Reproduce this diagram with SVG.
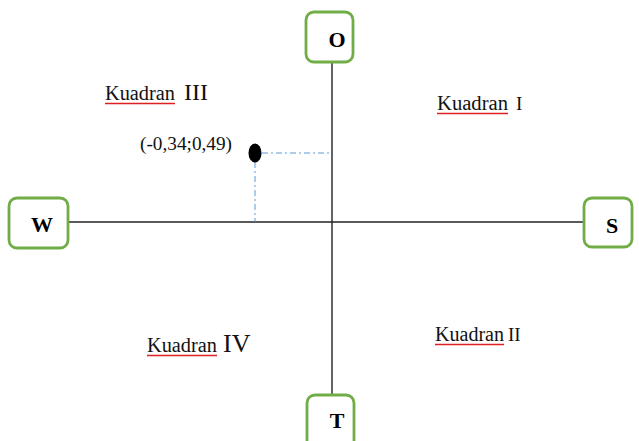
<svg xmlns="http://www.w3.org/2000/svg" width="639" height="441" viewBox="0 0 639 441">
<style>
.box{fill:#fff;stroke:#70AD47;stroke-width:2.8}
.lbl{font-family:"Liberation Serif",serif;font-weight:bold;font-size:22px;fill:#000;text-anchor:middle}
.axis{stroke:#222;stroke-width:1.4;fill:none}
.guide{stroke:#5B9BD5;stroke-width:1;stroke-dasharray:6 3 2 3;fill:none}
.kt{font-family:"Liberation Serif",serif;font-size:20px;fill:#111}
.num{font-family:"Liberation Serif",serif;fill:#111}
.ul{stroke:#E02020;stroke-width:1.6;fill:none}
</style>
<rect width="639" height="441" fill="#fff"/>
<g id="connectors">
<line class="axis" x1="332" y1="62" x2="332" y2="395"/>
<line class="axis" x1="68" y1="222" x2="584" y2="222"/>
<polyline class="guide" points="262,153 332,153"/>
<polyline class="guide" points="255,162 255,222"/>
</g>
<g id="node-O"><rect class="box" x="306" y="12" width="47" height="50" rx="8"/><text class="lbl" x="337" y="47">O</text></g>
<g id="node-W"><rect class="box" x="9" y="198" width="59" height="50" rx="8"/><text class="lbl" x="42" y="232">W</text></g>
<g id="node-S"><rect class="box" x="584" y="198" width="48" height="49" rx="8"/><text class="lbl" x="612" y="233">S</text></g>
<g id="node-T"><rect class="box" x="307" y="395" width="47" height="55" rx="8"/><text class="lbl" x="337" y="428">T</text></g>
<g id="point">
<ellipse cx="255" cy="153" rx="6.5" ry="9.5" fill="#000"/>
<text class="num" x="140" y="150" font-size="18" textLength="92" lengthAdjust="spacingAndGlyphs">(-0,34;0,49)</text>
</g>
<g id="q1">
<text class="kt" x="437" y="110" textLength="71" lengthAdjust="spacingAndGlyphs">Kuadran</text>
<text class="num" x="516" y="110" font-size="19">I</text>
<line class="ul" x1="437" y1="113.5" x2="508" y2="113.5"/>
</g>
<g id="q3">
<text class="kt" x="105" y="100" textLength="70" lengthAdjust="spacingAndGlyphs">Kuadran</text>
<text class="num" x="184" y="100" font-size="24">III</text>
<line class="ul" x1="105" y1="103.5" x2="175" y2="103.5"/>
</g>
<g id="q4">
<text class="kt" x="147" y="352" textLength="70" lengthAdjust="spacingAndGlyphs">Kuadran</text>
<text class="num" x="223" y="352" font-size="26">IV</text>
<line class="ul" x1="147" y1="355.5" x2="217" y2="355.5"/>
</g>
<g id="q2">
<text class="kt" x="435" y="341" textLength="69" lengthAdjust="spacingAndGlyphs">Kuadran</text>
<text class="num" x="508" y="341" font-size="19">II</text>
<line class="ul" x1="435" y1="344.5" x2="504" y2="344.5"/>
</g>
</svg>
